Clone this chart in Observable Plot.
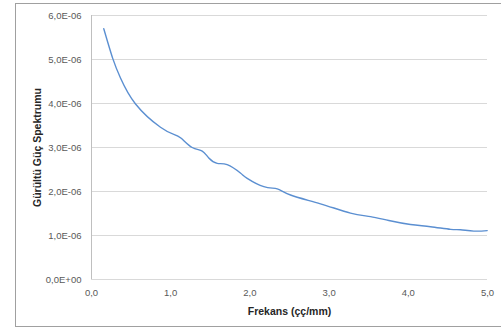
<!DOCTYPE html>
<html>
<head>
<meta charset="utf-8">
<script src="https://cdn.jsdelivr.net/npm/d3@7"></script>
<script src="https://cdn.jsdelivr.net/npm/@observablehq/plot@0.6"></script>
<style>
  html, body { margin: 0; padding: 0; background: #fff; }
  #wrap { position: relative; width: 501px; height: 331px; overflow: hidden; }
  #border { position: absolute; left: 15px; top: 3px; width: 500px; height: 324px; border: 1px solid #a0a0a0; box-sizing: border-box; }
  #chart { position: absolute; left: 0; top: 0; }
</style>
</head>
<body>
<div id="wrap"><div id="border"></div><div id="chart"></div></div>
<script>
const frekans = [0.155, 0.269, 0.366, 0.556, 0.871, 1.039, 1.133, 1.271, 1.398, 1.481, 1.587, 1.713, 1.88, 1.966, 2.176, 2.345, 2.513, 2.891, 3.270, 3.523, 3.754, 4.028, 4.280, 4.533, 4.659, 4.827, 4.996];
const guc = [5.70e-6, 5.02e-6, 4.58e-6, 3.99e-6, 3.46e-6, 3.30e-6, 3.21e-6, 3.00e-6, 2.92e-6, 2.76e-6, 2.64e-6, 2.61e-6, 2.42e-6, 2.30e-6, 2.11e-6, 2.06e-6, 1.92e-6, 1.72e-6, 1.51e-6, 1.43e-6, 1.34e-6, 1.25e-6, 1.20e-6, 1.14e-6, 1.13e-6, 1.10e-6, 1.11e-6];
const xTicks = [0, 1, 2, 3, 4, 5];
const yTicks = [0, 1e-6, 2e-6, 3e-6, 4e-6, 5e-6, 6e-6];
const xTitle = "Frekans (çç/mm)";
const yTitle = "Gürültü Güç Spektrumu";

const data = frekans.map((f, i) => ({f, g: guc[i]}));
const fmtY = d => d === 0 ? "0,0E+00" : (d / 1e-6).toFixed(1).replace(".", ",") + "E-06";
const fmtX = d => d.toFixed(1).replace(".", ",");

const plot = Plot.plot({
  width: 501,
  height: 331,
  marginLeft: 91,
  marginRight: 14,
  marginTop: 15,
  marginBottom: 52,
  style: { fontFamily: "'Liberation Sans', Arial, sans-serif", background: "transparent" },
  x: { domain: [0, 5] },
  y: { domain: [0, 6e-6] },
  marks: [
    Plot.ruleY(yTicks, { stroke: "#d9d9d9", strokeWidth: 1 }),
    Plot.ruleX([0], { stroke: "#bfbfbf", strokeWidth: 1 }),
    Plot.axisY({ ticks: yTicks, tickFormat: fmtY, tickSize: 0, tickPadding: 10, label: null, fontSize: 9.5, fill: "#595959" }),
    Plot.axisX({ ticks: xTicks, tickFormat: fmtX, tickSize: 0, tickPadding: 10, label: null, fontSize: 9.5, fill: "#595959" }),
    Plot.line(data, { x: "f", y: "g", stroke: "#5b8fd1", strokeWidth: 1.4, curve: "natural" }),
    Plot.text([xTitle], { frameAnchor: "bottom", dy: 32, text: d => d, fontWeight: "bold", fontSize: 10.5, fill: "#262626", lineAnchor: "middle", textAnchor: "middle" }),
    Plot.text([yTitle], { frameAnchor: "left", dx: -54, text: d => d, rotate: -90, fontWeight: "bold", fontSize: 10.5, fill: "#262626", lineAnchor: "middle", textAnchor: "middle" })
  ]
});
document.getElementById("chart").appendChild(plot);
</script>
</body>
</html>
